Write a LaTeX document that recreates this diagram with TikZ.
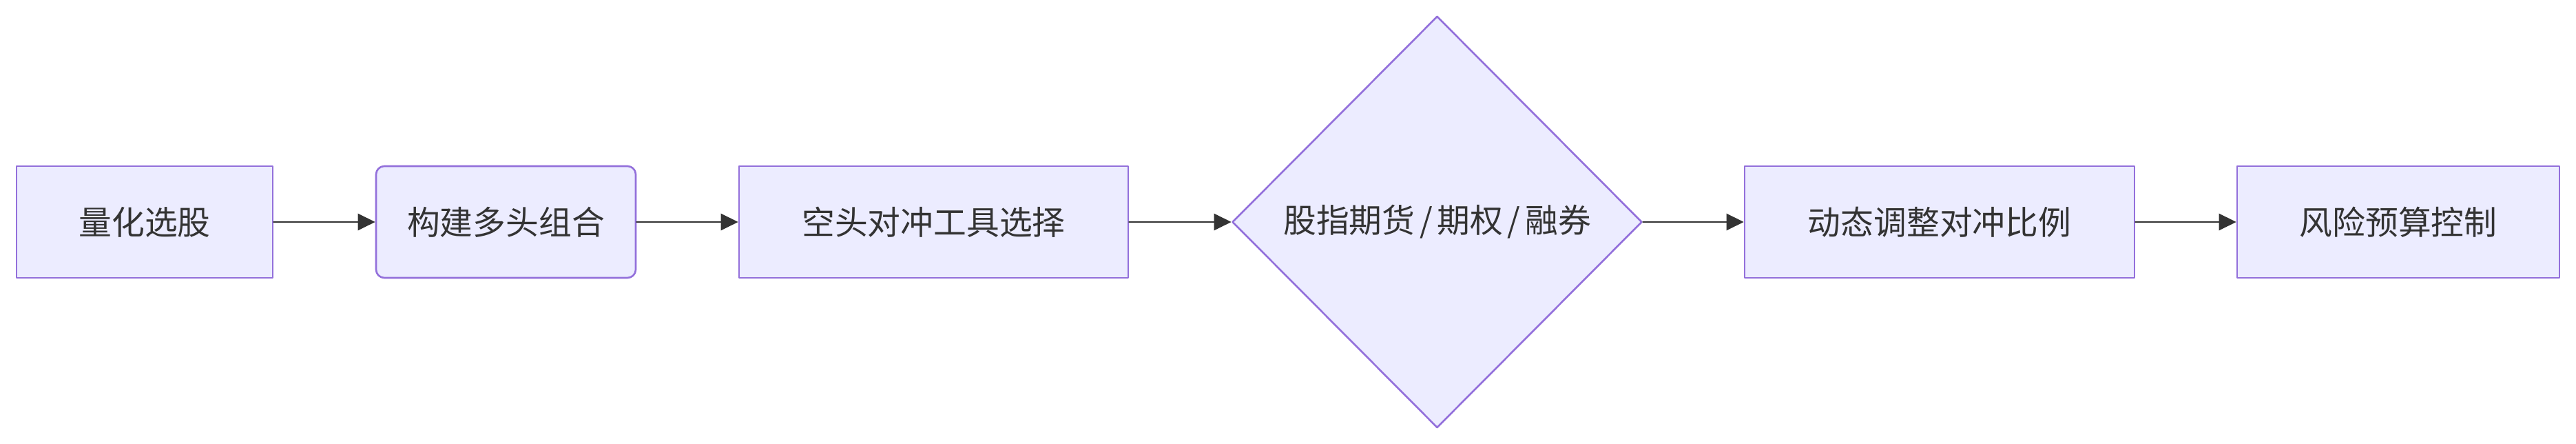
\documentclass[tikz,border=0pt]{standalone}
\usepackage{fontspec}
\newfontfamily\cjk{Noto Sans CJK SC}
\usepackage{xcolor}
\usepackage{tikz}
\usetikzlibrary{arrows.meta,shapes.geometric}

\definecolor{nodefill}{HTML}{ECECFF}
\definecolor{nodeline}{HTML}{9370DB}
\definecolor{ink}{HTML}{333333}

\begin{document}
\begin{tikzpicture}[x=1cm,y=1cm,line cap=round,line join=round,
  stepbox/.style={draw=nodeline,fill=nodefill,line width=.75pt,inner sep=0pt,
    minimum height=1.62cm,text=ink,font=\cjk\fontsize{13.6}{16}\selectfont},
  roundbox/.style={stepbox,rounded corners=.12cm},
  choice/.style={stepbox,diamond,minimum width=5.95cm,minimum height=5.97cm},
  flow/.style={draw=ink,line width=.7pt,-{Triangle[length=.25cm,width=.24cm]}}]
  \useasboundingbox (0,0) rectangle (37.40,6.44);
  % Process steps, left to right.
  \node[stepbox,minimum width=3.72cm] (pick) at (2.10,3.22) {量化选股};
  \node[roundbox,minimum width=3.77cm] (longs) at (7.345,3.22) {构建多头组合};
  \node[stepbox,minimum width=5.65cm] (tools) at (13.555,3.22) {空头对冲工具选择};
  \node[choice] (hedge) at (20.865,3.22)
    {股指期货\hspace{.14em}/\hspace{.14em}期权\hspace{.14em}/\hspace{.14em}融券};
  \node[stepbox,minimum width=5.66cm] (ratio) at (28.16,3.22) {动态调整对冲比例};
  \node[stepbox,minimum width=4.68cm] (budget) at (34.82,3.22) {风险预算控制};
  % Connectors.
  \draw[flow] (pick) -- (longs);
  \draw[flow] (longs) -- (tools);
  \draw[flow] (tools) -- (hedge);
  \draw[flow] (hedge) -- (ratio);
  \draw[flow] (ratio) -- (budget);
\end{tikzpicture}
\end{document}
